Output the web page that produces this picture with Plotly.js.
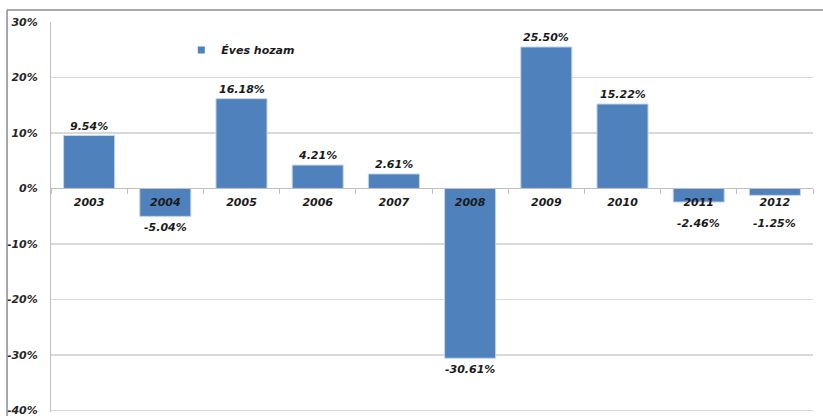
<!DOCTYPE html>
<html>
<head>
<meta charset="utf-8">
<script src="https://cdn.plot.ly/plotly-3.0.1.min.js"></script>
<style>html,body{margin:0;padding:0;background:#fff;}#chart{width:823px;height:416px;}</style>
</head>
<body>
<div id="chart"></div>
<script>
// Data
const years = ['2003','2004','2005','2006','2007','2008','2009','2010','2011','2012'];
const returns = [9.54, -5.04, 16.18, 4.21, 2.61, -30.61, 25.50, 15.22, -2.46, -1.25];
const seriesName = 'Éves hozam';
const yTicks = [-40, -30, -20, -10, 0, 10, 20, 30];

const barColor = '#4F81BD';
const fontFamily = 'DejaVu Sans, Verdana, sans-serif';
const labelFont = {family: fontFamily, size: 11, color: '#1a1a1a', weight: 'bold', style: 'italic'};

const traces = [
  {
    type: 'bar', x: years, y: returns, name: seriesName, showlegend: false,
    marker: {color: barColor, line: {color: '#c5d5ea', width: 1}},
    hoverinfo: 'x+y'
  },
  {
    type: 'scatter', mode: 'markers', x: [years[0]], y: [null], name: seriesName,
    marker: {symbol: 'square', size: 7, color: barColor}, showlegend: true
  }
];

const annotations = returns.map((v, i) => {
  const txt = v.toFixed(2) + '%';
  if (v >= 0) {
    return {x: i, y: v, text: txt, showarrow: false, yanchor: 'bottom', yshift: 1, font: labelFont};
  }
  if (v > -4) {
    // small negative bars: label placed beneath the category label
    return {x: i, y: 0, text: txt, showarrow: false, yanchor: 'top', yshift: -27, font: labelFont};
  }
  return {x: i, y: v, text: txt, showarrow: false, yanchor: 'top', yshift: -3, font: labelFont};
});

const frameColor = '#8c8c8c';
const shapes = [
  {type: 'line', xref: 'paper', yref: 'paper', x0: -0.0577, x1: -0.0577, y0: 1.031, y1: -0.03, line: {color: frameColor, width: 1.5}},
  {type: 'line', xref: 'paper', yref: 'paper', x0: -0.0577, x1: 1.02, y0: 1.031, y1: 1.031, line: {color: frameColor, width: 1.5}}
];

const layout = {
  width: 823, height: 416,
  margin: {l: 51, r: 10, t: 22, b: 4},
  paper_bgcolor: '#ffffff', plot_bgcolor: '#ffffff',
  bargap: 0.33,
  showlegend: true,
  legend: {x: 0.171, y: 0.928, xanchor: 'left', yanchor: 'middle', bgcolor: 'rgba(0,0,0,0)',
           font: labelFont},
  xaxis: {
    type: 'category', categoryorder: 'array', categoryarray: years,
    range: [-0.5, years.length - 0.5], autorange: false,
    anchor: 'free', position: 40.3/70.3,
    tickson: 'boundaries', ticks: 'outside', ticklen: 5, tickcolor: '#bfbfbf', tickwidth: 1,
    tickangle: 0, ticklabelstandoff: 3,
    showline: true, linecolor: '#bfbfbf', linewidth: 1, showgrid: false, zeroline: false,
    tickfont: labelFont, fixedrange: true
  },
  yaxis: {
    range: [-40.3, 30], autorange: false, tickvals: yTicks, ticktext: yTicks.map(t => t + '%'),
    showline: true, linecolor: '#bfbfbf', linewidth: 1,
    showgrid: true, gridcolor: '#d9d9d9', gridwidth: 1.5, zeroline: false,
    ticks: '', ticklabelstandoff: 10, ticklabeloverflow: 'allow',
    tickfont: {family: fontFamily, size: 11, color: '#262626', weight: 'bold', style: 'italic'},
    fixedrange: true
  },
  annotations: annotations,
  shapes: shapes
};

Plotly.newPlot('chart', traces, layout, {displayModeBar: false, staticPlot: true});
</script>
</body>
</html>
